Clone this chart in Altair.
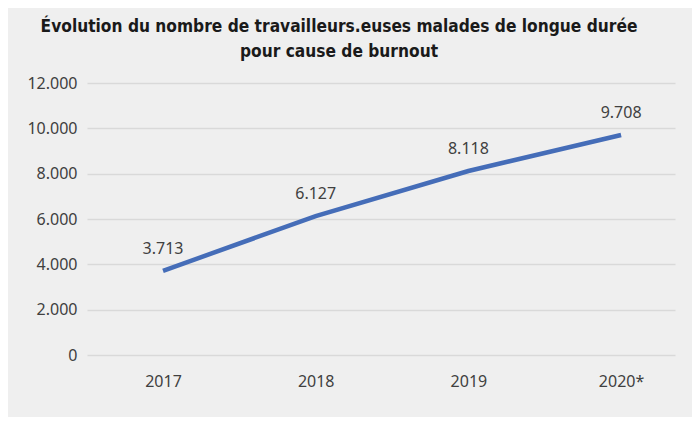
import altair as alt
import pandas as pd

years = ["2017", "2018", "2019", "2020*"]
values = [3713, 6127, 8118, 9708]
labels = ["3.713", "6.127", "8.118", "9.708"]

df = pd.DataFrame({"annee": years, "valeur": values, "etiquette": labels})

x = alt.X("annee:N", sort=years, title=None,
          scale=alt.Scale(type="point", padding=0.4254, align=0.585),
          axis=alt.Axis(labelAngle=0, ticks=False, domain=False, grid=False,
                        labelPadding=18, labelFontSize=16, labelColor="#404040",
                        labelFont="Noto Sans"))
y = alt.Y("valeur:Q", title=None,
          scale=alt.Scale(domain=[0, 12000]),
          axis=alt.Axis(values=[0, 2000, 4000, 6000, 8000, 10000, 12000],
                        labelExpr="replace(format(datum.value, ','), ',', '.')",
                        ticks=False, domain=False, gridColor="#d9d9d9", gridWidth=1.5,
                        labelPadding=10, labelFontSize=16, labelColor="#404040",
                        labelFont="Noto Sans"))

base = alt.Chart(df).encode(x=x, y=y)
line = base.mark_line(color="#456DB8", strokeWidth=4.5, strokeCap="butt")
text = base.mark_text(dy=-22, fontSize=16, color="#404040", font="Noto Sans",
                      baseline="middle").encode(text="etiquette:N")

chart = (line + text).properties(
    width=588, height=272,
    autosize=alt.AutoSizeParams(type="none"),
    padding={"left": 79, "top": 75, "right": 17, "bottom": 62},
    title=alt.TitleParams(
        ["Évolution du nombre de travailleurs.euses malades de longue durée",
         "pour cause de burnout"],
        font="DejaVu Sans Condensed, Roboto Condensed, Roboto", fontSize=17.2, fontWeight="bold",
        color="#1a1a1a", lineHeight=25, anchor="middle", dx=-42, offset=15),
).configure(background="#efefef").configure_view(stroke=None)

chart.save("out.html", embed_options={"renderer": "svg", "actions": False})
